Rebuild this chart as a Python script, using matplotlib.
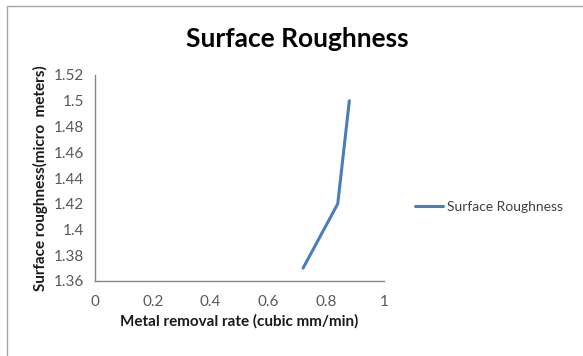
import matplotlib.pyplot as plt
from matplotlib.lines import Line2D

# metal removal rate vs surface roughness
mrr = [0.72, 0.84, 0.88]
roughness = [1.37, 1.42, 1.50]
x_ticks = [0, 0.2, 0.4, 0.6, 0.8, 1]
y_ticks = [1.36, 1.38, 1.40, 1.42, 1.44, 1.46, 1.48, 1.50, 1.52]
x_labels = ['0', '0.2', '0.4', '0.6', '0.8', '1']
y_labels = ['1.36', '1.38', '1.4', '1.42', '1.44', '1.46', '1.48', '1.5', '1.52']

plt.rcParams['font.family'] = ['Lato', 'DejaVu Sans']

fig = plt.figure(figsize=(5.83, 3.56), dpi=100)
W, H = 583, 356

# chart frame, only left and top edges fall inside the image
fig.lines.append(Line2D([7 / W, 7 / W, 1.0], [0.0, 1 - 6 / H, 1 - 6 / H], transform=fig.transFigure,
                        color='#a6a6a6', linewidth=1.0))

ax = fig.add_axes([95 / W, 1 - 281 / H, (384 - 95) / W, (281 - 75) / H])
line, = ax.plot(mrr, roughness, color='#4a7ebb', linewidth=2.2, solid_capstyle='round',
                label='Surface Roughness')

ax.set_xlim(0, 1)
ax.set_ylim(1.36, 1.52)
ax.set_xticks(x_ticks)
ax.set_xticklabels(x_labels)
ax.set_yticks(y_ticks)
ax.set_yticklabels(y_labels)
ax.tick_params(axis='y', length=0, labelsize=11, colors='#595959', pad=8)
ax.tick_params(axis='x', length=0, labelsize=11, colors='#595959', pad=10)

for s in ['top', 'right']:
    ax.spines[s].set_visible(False)
for s in ['left', 'bottom']:
    ax.spines[s].set_color('#868686')
    ax.spines[s].set_linewidth(1.0)

ax.set_xlabel('Metal removal rate (cubic mm/min)', fontsize=11, fontweight='bold', color='#1a1a1a',
              labelpad=4)
ax.set_ylabel('Surface roughness(micro  meters)', fontsize=11, fontweight='bold', color='#1a1a1a',
              labelpad=4)

fig.text(297 / W, 1 - 39 / H, 'Surface Roughness', ha='center', va='center', fontsize=19,
         fontweight='bold', color='black')

fig.legend(handles=[line], loc='center left', bbox_to_anchor=(403 / W, 1 - 207 / H), frameon=False,
           fontsize=10, handlelength=2.0, handletextpad=0.3, labelcolor='#404040')

fig.savefig('out.png', dpi=100)
